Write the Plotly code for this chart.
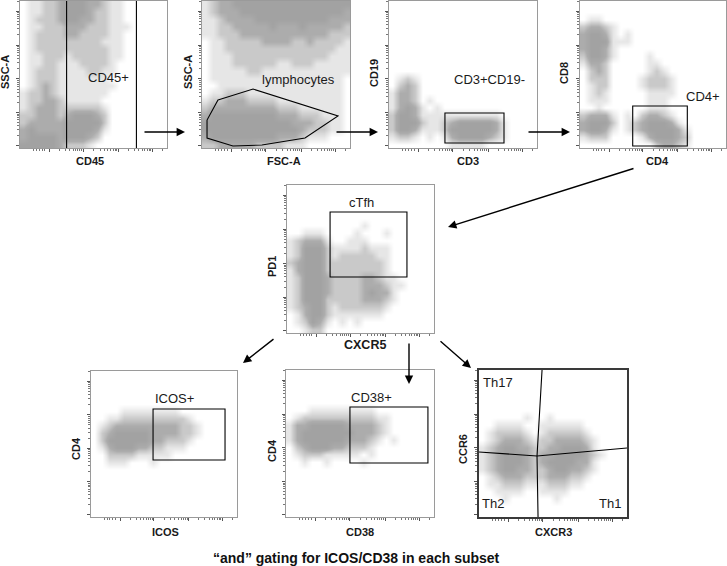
import math
import plotly.graph_objects as go

# ---------------- data: density grids (rows top -> bottom, 20 x 20, 0..4) ----------------
P1_CD45_SSC = [
    "01122344433211000000",
    "01122344432211000000",
    "01222344332211000000",
    "01122233322211100000",
    "01222233222211000000",
    "01222222222111000000",
    "01222222222211000000",
    "01122212222211000000",
    "01122111222210000000",
    "01222111122110000000",
    "01222111111100000000",
    "01232111111110000000",
    "12232111111100000000",
    "12233211111000000000",
    "12333222222100000000",
    "22333234443200000000",
    "23333344444200000000",
    "34333344443100000000",
    "34444344432000000000",
    "44444322210000000000",
]
P2_FSC_SSC = [
    "12334444444444444444",
    "12333444444444444443",
    "11233334444444444333",
    "11223333343334333332",
    "11222333333333333222",
    "01122222333322322221",
    "01122222222222222211",
    "01112222222222222111",
    "01112222221122211111",
    "01111122111111111111",
    "01111111111111111110",
    "00111111111111111110",
    "01122211111111111110",
    "12233322221111111110",
    "23333333332221111110",
    "34444444443332221110",
    "44444444444433322110",
    "44444444444443222110",
    "34444444443332111000",
    "22333332222111000000",
]
P3_CD3_CD19 = [
    "00000000000000000000",
    "00000000000000000000",
    "00000000000000000000",
    "00000000000000000000",
    "00000000000000000000",
    "00000000000000000000",
    "00000000000000000000",
    "00000000000000000000",
    "00000000000000000000",
    "00000000000000000000",
    "01210000000000000000",
    "02320000000000000000",
    "13320000000000000000",
    "13320100000000000000",
    "13431010000000000000",
    "24431111111111100000",
    "24442112344444310000",
    "24431112444444310000",
    "12210101344443210000",
    "00000000111110000000",
]
P4_CD4_CD8 = [
    "00000000000000000000",
    "00000000000000000000",
    "01100000000000000000",
    "23321000000000000000",
    "34431010000000000000",
    "34441110000000000000",
    "34431000000000000000",
    "24431000010000000000",
    "13320000011000000000",
    "02320000012100000000",
    "02220000122210000000",
    "01220000122210000000",
    "01210000011110000000",
    "01110000011100000000",
    "00100000011100000000",
    "23331010233210000000",
    "34442012344431000000",
    "34431012344443100000",
    "12220000134443200000",
    "00000000002332100000",
]
P5_CXCR5_PD1 = [
    "00000000000000000000",
    "00000000000000000000",
    "00000000000000000000",
    "00000000000000000000",
    "00000000000000000000",
    "00000000001000000000",
    "00111000010001000000",
    "12333100111000000000",
    "12444211112111000000",
    "12444212222211000000",
    "23444222222221000000",
    "13444222222221000000",
    "12444322223321100000",
    "12444322223332110000",
    "12444322223433100000",
    "12444222223332100000",
    "12344212222221000000",
    "01344211111110000000",
    "01243101010000000000",
    "00122000000000000000",
]
P6_ICOS_CD4 = [
    "00000000000000000000",
    "00000000000000000000",
    "00000000000000000000",
    "00000000000000000000",
    "00000000000000000000",
    "00001111111100000000",
    "00112222222221000000",
    "01233333333322100000",
    "02344444333322100000",
    "02444444332221000000",
    "01344433221110000000",
    "00222211111000000000",
    "00111000100000000000",
    "00000000000000000000",
    "00000000000000000000",
    "00000000000000000000",
    "00000000000000000000",
    "00000000000000000000",
    "00000000000000000000",
    "00000000000000000000",
]
P7_CD38_CD4 = [
    "00000000000000000000",
    "00000000000000000000",
    "00000000000000000000",
    "00000000000000000000",
    "00000000000000000000",
    "00011111111100000000",
    "01222222222211000000",
    "13344444333321000000",
    "13444444433321000000",
    "13444444333210100000",
    "02344433222100000000",
    "01222111110100000000",
    "00100100001000000000",
    "00000000000000000000",
    "00000000000000000000",
    "00000000000000000000",
    "00000000000000000000",
    "00000000000000000000",
    "00000000000000000000",
    "00000000000000000000",
]
P8_CXCR3_CCR6 = [
    "00000000000000000000",
    "00000000000000000000",
    "00000000000000000000",
    "00000000000000000000",
    "00000000000000000000",
    "00000000000000000000",
    "00000010010000000000",
    "00111100111111000000",
    "01222210122222100000",
    "01233321223333210000",
    "12344332233444310000",
    "12344432334444321000",
    "12344432344443310000",
    "12344332234433210000",
    "01233322233322100000",
    "01122211122211000000",
    "00111100111100000000",
    "00010000001000000000",
    "00000000000000000000",
    "00000000000000000000",
]

# gates (panel units 0..100)
GATE_CD45_LINES_X = [31.7, 79.2]
GATE_LYMPH_X = [10.8, 34.5, 91.9, 69.6, 40.5, 20.9, 3.4, 3.4]
GATE_LYMPH_Y = [32.7, 40.1, 21.8, 6.8, 2.0, 1.4, 6.8, 19.0]
GATE_CD3 = [37.8, 77.7, 3.4, 23.8]
GATE_CD4 = [36.1, 73.5, 1.4, 28.6]
GATE_CTFH = [29.3, 81.6, 37.8, 81.8]
GATE_ICOS = [42.5, 91.8, 39.0, 74.0]
GATE_CD38 = [43.2, 95.9, 36.7, 74.8]
QUAD_V_X = [42.6, 39.2, 39.9]
QUAD_V_Y = [100, 41.5, 0]
QUAD_H_X = [0, 39.2, 100]
QUAD_H_Y = [44.2, 41.5, 46.9]

X_TITLES = ["CD45", "FSC-A", "CD3", "CD4", "CXCR5", "ICOS", "CD38", "CXCR3"]
Y_TITLES = ["SSC-A", "SSC-A", "CD19", "CD8", "PD1", "CD4", "CD4", "CCR6"]
GATE_LABELS = ["CD45+", "lymphocytes", "CD3+CD19-", "CD4+", "cTfh", "ICOS+", "CD38+",
               "Th17", "Th2", "Th1"]
FOOTER = "\u201cand\u201d gating for ICOS/CD38 in each subset"

# ---------------- layout (pixels) ----------------
W, H = 727, 566
BOXES = [(20, 1, 167, 148), (202, 1, 350, 148), (389, 1, 537, 148), (580, 1, 726, 148),
         (287, 185, 434, 333), (91, 371, 237, 517), (286, 370, 434, 517), (479, 370, 627, 517)]
XT_POS = [(90, 161), (284, 161), (468, 161), (657, 161), (365, 345), (165, 532), (360, 532), (553, 532)]
XT_SIZE = [11, 11, 11, 11, 12.5, 11, 11, 11]
YT_POS = [(5, 72), (188, 72), (374, 73), (564, 73), (272, 267), (76, 449), (272, 451), (463, 449)]
LABEL_POS = [(0, 60, 48), (1, 64.9, 46.3), (2, 68.2, 46.3), (3, 84.4, 34.7), (4, 51.0, 88.5),
             (5, 57.5, 81.5), (6, 58.1, 81.0), (7, 12.8, 91.8), (7, 9.5, 9.5), (7, 88.5, 9.5)]
ARROWS = [((143, 132), (185, 132)), ((335, 132), (378, 132)), ((527, 132), (570, 132)),
          ((635, 168), (448, 227)), ((275, 338), (243, 363)), ((409, 342), (409, 384)),
          ((439, 340), (471, 368))]

FONT = "Liberation Sans, Arial, Helvetica, sans-serif"
CS = [[0, "#ffffff"], [0.25, "#e6e6e6"], [0.5, "#c9c9c9"], [0.75, "#acacac"], [1, "#a2a2a2"]]
GRIDS = [P1_CD45_SSC, P2_FSC_SSC, P3_CD3_CD19, P4_CD4_CD8, P5_CXCR5_PD1, P6_ICOS_CD4,
         P7_CD38_CD4, P8_CXCR3_CCR6]


def px(x):
    return x / W


def py(y):
    return 1 - y / H


def tick_sets(majors, lin):
    minors = list(lin)
    pts = list(majors)
    step = majors[1] - majors[0]
    ext = pts + [pts[-1] + step]
    for a, b in zip(ext[:-1], ext[1:]):
        for k in range(2, 10):
            v = a + (b - a) * math.log10(k)
            if 0 < v < 100:
                minors.append(v)
    return majors, minors


XMAJ, XMIN = tick_sets([20, 43, 67, 90], [9, 11, 13, 15, 17])
YMAJ, YMIN = tick_sets([2, 24, 47, 70, 93], [])

fig = go.Figure()
layout = dict(width=W, height=H, margin=dict(l=0, r=0, t=0, b=0), paper_bgcolor="white",
              plot_bgcolor="white", showlegend=False)
shapes = []
annotations = []

for i, grid in enumerate(GRIDS):
    n = i + 1
    xa = "x" if n == 1 else f"x{n}"
    ya = "y" if n == 1 else f"y{n}"
    z = [[int(c) for c in row] for row in grid][::-1]
    fig.add_trace(go.Heatmap(z=z, x0=2.5, dx=5, y0=2.5, dy=5, zmin=0, zmax=4, colorscale=CS,
                             showscale=False, zsmooth="best", hoverinfo="skip",
                             xaxis=xa, yaxis=ya))
    L, T, R, B = BOXES[i]
    dark = (n == 8)
    lc = "#3a3a3a" if dark else "#9a9a9a"
    lw = 2 if dark else 1
    common = dict(range=[0, 100], showgrid=False, zeroline=False, showticklabels=False,
                  showline=True, mirror=True, linecolor=lc, linewidth=lw, ticks="outside",
                  ticklen=3, tickwidth=1, tickcolor="#555", fixedrange=True)
    layout["xaxis" if n == 1 else f"xaxis{n}"] = dict(
        common, domain=[px(L), px(R)], anchor=ya, tickvals=XMAJ,
        minor=dict(tickvals=XMIN, ticks="outside", ticklen=2, tickcolor="#777"))
    layout["yaxis" if n == 1 else f"yaxis{n}"] = dict(
        common, domain=[py(B), py(T)], anchor=xa, tickvals=YMAJ,
        minor=dict(tickvals=YMIN, ticks="outside", ticklen=2, tickcolor="#777"))
    xx, xy = XT_POS[i]
    annotations.append(dict(x=px(xx), y=py(xy), xref="paper", yref="paper", text=X_TITLES[i],
                            showarrow=False, font=dict(family=FONT, size=XT_SIZE[i],
                                                       color="#1a1a1a", weight="bold"),
                            xanchor="center", yanchor="middle"))
    yx, yy = YT_POS[i]
    annotations.append(dict(x=px(yx), y=py(yy), xref="paper", yref="paper", text=Y_TITLES[i],
                            showarrow=False, textangle=-90,
                            font=dict(family=FONT, size=11, color="#1a1a1a", weight="bold"),
                            xanchor="center", yanchor="middle"))

gline = dict(color="black", width=1.1)
for gx in GATE_CD45_LINES_X:
    shapes.append(dict(type="line", xref="x", yref="y", x0=gx, x1=gx, y0=0, y1=100, line=gline))
path = "M " + " L ".join(f"{a},{b}" for a, b in zip(GATE_LYMPH_X, GATE_LYMPH_Y)) + " Z"
shapes.append(dict(type="path", xref="x2", yref="y2", path=path, line=gline))
for n, g in [(3, GATE_CD3), (4, GATE_CD4), (5, GATE_CTFH), (6, GATE_ICOS), (7, GATE_CD38)]:
    shapes.append(dict(type="rect", xref=f"x{n}", yref=f"y{n}", x0=g[0], x1=g[1], y0=g[2],
                       y1=g[3], line=gline))
for xs, ys in [(QUAD_V_X, QUAD_V_Y), (QUAD_H_X, QUAD_H_Y)]:
    p = "M " + " L ".join(f"{a},{b}" for a, b in zip(xs, ys))
    shapes.append(dict(type="path", xref="x8", yref="y8", path=p, line=gline))

for txt, (pi, lx, ly) in zip(GATE_LABELS, LABEL_POS):
    n = pi + 1
    annotations.append(dict(x=lx, y=ly, xref="x" if n == 1 else f"x{n}",
                            yref="y" if n == 1 else f"y{n}", text=txt, showarrow=False,
                            font=dict(family=FONT, size=13, color="#1a1a1a"),
                            xanchor="center", yanchor="middle"))

for (tx, ty), (hx, hy) in ARROWS:
    annotations.append(dict(x=px(hx), y=py(hy), xref="paper", yref="paper", ax=tx - hx,
                            ay=ty - hy, axref="pixel", ayref="pixel", text="", showarrow=True,
                            arrowhead=2, arrowsize=1.2, arrowwidth=1.4, arrowcolor="black",
                            standoff=0, startstandoff=0))

annotations.append(dict(x=px(356), y=py(558), xref="paper", yref="paper", text=FOOTER,
                        showarrow=False, font=dict(family=FONT, size=14, color="#111",
                                                   weight="bold"),
                        xanchor="center", yanchor="middle"))

layout["shapes"] = shapes
layout["annotations"] = annotations
fig.update_layout(**layout)
fig.write_html("out.html", config={"displayModeBar": False},
               post_script="document.body.style.margin='0';document.body.style.overflow='hidden';")
